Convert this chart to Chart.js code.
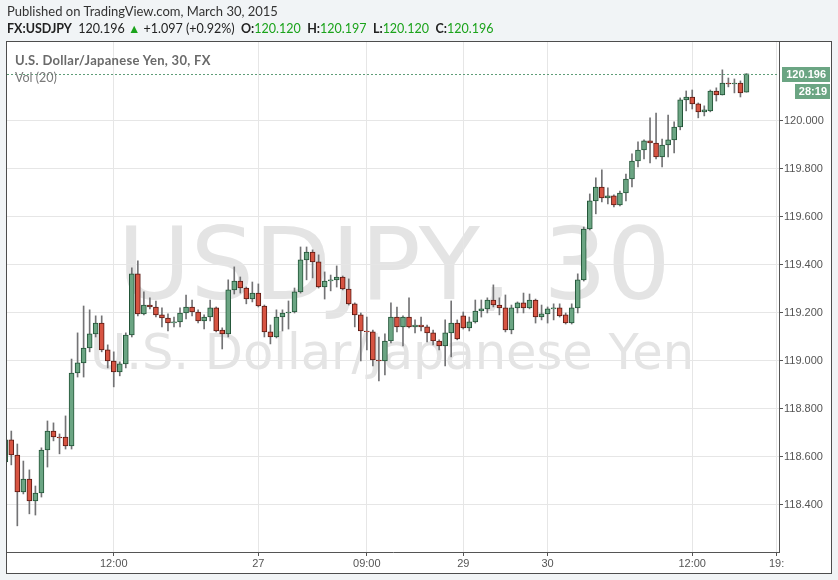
<!DOCTYPE html>
<html lang="en">
<head>
    <meta charset="UTF-8">
    <title>FX:USDJPY 30</title>
    <style>
        body { margin: 0; background: #f1f4f6; }
        #wrap { position: relative; width: 838px; height: 580px; overflow: hidden; font-family: Lato, "Open Sans", sans-serif; }
        #frame { position: absolute; left: 6px; top: 41px; width: 826px; height: 533px; box-sizing: border-box; border: 1px solid #4d4d4d; background: #fff; }
        .txt { position: absolute; white-space: nowrap; }
        #pub { left: 7px; top: 4px; font-size: 13px; line-height: 15px; color: #333; }
        #quote { left: 7px; top: 21px; font-size: 12.5px; line-height: 15px; color: #222; }
        #quote b { font-weight: bold; }
        #quote .g { color: #1ba31b; }
        #title { left: 15px; top: 53px; font-size: 13px; line-height: 15px; font-weight: bold; color: #6a6a6a; letter-spacing: 0.3px; }
        #vol { left: 15px; top: 70px; font-size: 12.5px; line-height: 15px; color: #7a7a7a; }
        .wm { position: absolute; width: 800px; text-align: center; color: #e4e4e4; white-space: nowrap; font-family: "DejaVu Sans", sans-serif; }
        #wm1 { left: -6px; top: 215px; font-size: 100px; line-height: 100px; }
        #wm2 { left: -8px; top: 328px; font-size: 49.5px; line-height: 49.5px; }
        canvas { position: absolute; left: 0; top: 0; }
    </style>
</head>
<body>
    <div id="wrap">
        <div id="frame"></div>
        <div class="wm" id="wm1">USDJPY, 30</div>
        <div class="wm" id="wm2">U.S. Dollar/Japanese Yen</div>
        <canvas id="candles" width="838" height="580"></canvas>
        <div class="txt" id="pub">Published on TradingView.com, March 30, 2015</div>
        <div class="txt" id="quote"><b>FX:USDJPY</b>&nbsp; 120.196 <span class="g">&#9650;</span> +1.097 (+0.92%)&nbsp; <b>O:</b><span class="g">120.120</span>&nbsp; <b>H:</b><span class="g">120.197</span>&nbsp; <b>L:</b><span class="g">120.120</span>&nbsp; <b>C:</b><span class="g">120.196</span></div>
        <div class="txt" id="title">U.S. Dollar/Japanese Yen, 30, FX</div>
        <div class="txt" id="vol">Vol (20)</div>
    </div>

    <script src="https://cdn.jsdelivr.net/npm/chart.js@4.4.1/dist/chart.umd.min.js"></script>
    <script>
        // 30 minute candles, first one (index -1) is cut by the left edge
        const opens = [
            118.579, 118.671, 118.608, 118.454, 118.508, 118.417, 118.450, 118.629, 118.708, 118.683,
            118.683, 118.646, 118.950, 118.992, 119.054, 119.113, 119.158, 119.046, 119.000, 118.954,
            118.988, 119.108, 119.363, 119.196, 119.233, 119.225, 119.192, 119.179, 119.158, 119.163,
            119.200, 119.225, 119.204, 119.167, 119.183, 119.221, 119.129, 119.113, 119.296, 119.333,
            119.304, 119.258, 119.283, 119.229, 119.121, 119.100, 119.183, 119.200, 119.204, 119.288,
            119.421, 119.454, 119.413, 119.308, 119.333, 119.338, 119.350, 119.300, 119.238, 119.192,
            119.125, 119.121, 119.004, 119.000, 119.083, 119.183, 119.142, 119.183, 119.142, 119.150,
            119.142, 119.117, 119.083, 119.063, 119.117, 119.158, 119.188, 119.138, 119.163, 119.208,
            119.217, 119.254, 119.233, 119.221, 119.129, 119.221, 119.242, 119.221, 119.254, 119.183,
            119.196, 119.217, 119.221, 119.192, 119.158, 119.221, 119.338, 119.550, 119.667, 119.725,
            119.679, 119.688, 119.650, 119.700, 119.758, 119.833, 119.879, 119.917, 119.908, 119.850,
            119.900, 119.921, 119.975, 120.088, 120.100, 120.071, 120.038, 120.042, 120.125, 120.108,
            120.158, 120.154, 120.158, 120.120
        ];
        const highs = [
            118.692, 118.708, 118.654, 118.583, 118.546, 118.479, 118.638, 118.750, 118.742, 118.696,
            118.771, 119.008, 119.117, 119.229, 119.213, 119.188, 119.188, 119.067, 119.038, 118.996,
            119.117, 119.388, 119.417, 119.288, 119.263, 119.250, 119.221, 119.196, 119.183, 119.221,
            119.275, 119.254, 119.213, 119.192, 119.254, 119.225, 119.138, 119.338, 119.392, 119.350,
            119.308, 119.329, 119.321, 119.233, 119.150, 119.213, 119.213, 119.250, 119.304, 119.475,
            119.475, 119.463, 119.442, 119.371, 119.358, 119.396, 119.354, 119.342, 119.242, 119.200,
            119.183, 119.129, 119.100, 119.113, 119.242, 119.225, 119.188, 119.263, 119.171, 119.183,
            119.150, 119.129, 119.088, 119.171, 119.250, 119.171, 119.204, 119.183, 119.254, 119.254,
            119.263, 119.317, 119.263, 119.275, 119.233, 119.246, 119.283, 119.279, 119.258, 119.233,
            119.225, 119.238, 119.238, 119.200, 119.238, 119.363, 119.558, 119.696, 119.763, 119.796,
            119.721, 119.692, 119.708, 119.779, 119.863, 119.913, 119.921, 120.013, 120.033, 119.925,
            120.025, 119.996, 120.096, 120.125, 120.129, 120.075, 120.063, 120.129, 120.138, 120.213,
            120.179, 120.175, 120.167, 120.197
        ];
        const lows = [
            118.567, 118.567, 118.313, 118.446, 118.363, 118.358, 118.433, 118.558, 118.667, 118.613,
            118.633, 118.633, 118.933, 118.933, 119.038, 119.100, 119.038, 118.971, 118.892, 118.938,
            118.971, 119.100, 119.188, 119.192, 119.217, 119.183, 119.142, 119.125, 119.142, 119.142,
            119.175, 119.188, 119.158, 119.133, 119.167, 119.121, 119.050, 119.100, 119.279, 119.283,
            119.238, 119.246, 119.225, 119.100, 119.071, 119.096, 119.125, 119.133, 119.200, 119.283,
            119.338, 119.346, 119.304, 119.258, 119.292, 119.308, 119.296, 119.233, 119.142, 119.000,
            119.046, 118.979, 118.917, 118.942, 119.075, 119.121, 119.063, 119.138, 119.117, 119.125,
            119.079, 119.067, 119.046, 118.979, 119.017, 119.088, 119.133, 119.125, 119.158, 119.183,
            119.200, 119.225, 119.192, 119.121, 119.113, 119.200, 119.200, 119.217, 119.158, 119.171,
            119.158, 119.171, 119.183, 119.154, 119.154, 119.200, 119.333, 119.546, 119.613, 119.663,
            119.654, 119.642, 119.646, 119.667, 119.725, 119.808, 119.842, 119.825, 119.842, 119.808,
            119.850, 119.867, 119.963, 120.042, 120.050, 120.013, 120.021, 120.038, 120.083, 120.108,
            120.142, 120.117, 120.100, 120.120
        ];
        const closes = [
            118.671, 118.608, 118.454, 118.508, 118.417, 118.450, 118.629, 118.708, 118.683, 118.679,
            118.646, 118.950, 118.992, 119.054, 119.113, 119.158, 119.046, 119.000, 118.954, 118.988,
            119.108, 119.363, 119.196, 119.233, 119.225, 119.192, 119.179, 119.158, 119.163, 119.200,
            119.225, 119.204, 119.167, 119.183, 119.221, 119.125, 119.113, 119.296, 119.333, 119.304,
            119.258, 119.283, 119.229, 119.121, 119.100, 119.183, 119.200, 119.204, 119.288, 119.421,
            119.454, 119.413, 119.308, 119.333, 119.338, 119.350, 119.300, 119.238, 119.192, 119.125,
            119.121, 119.004, 119.000, 119.083, 119.183, 119.142, 119.183, 119.142, 119.150, 119.142,
            119.117, 119.083, 119.063, 119.117, 119.158, 119.092, 119.138, 119.163, 119.208, 119.217,
            119.254, 119.233, 119.221, 119.129, 119.221, 119.242, 119.221, 119.254, 119.183, 119.196,
            119.217, 119.221, 119.188, 119.158, 119.221, 119.338, 119.550, 119.667, 119.725, 119.679,
            119.688, 119.650, 119.700, 119.758, 119.833, 119.879, 119.917, 119.908, 119.850, 119.900,
            119.921, 119.975, 120.088, 120.100, 120.071, 120.038, 120.046, 120.125, 120.108, 120.158,
            120.154, 120.158, 120.117, 120.196
        ];

        // x axis: candle index of each time label
        const xTickIndex = [17, 41, 59, 75, 89, 113, 127];
        const xTickLabels = ['12:00', '27', '09:00', '29', '30', '12:00', '19:'];
        const yTickValues = [118.4, 118.6, 118.8, 119.0, 119.2, 119.4, 119.6, 119.8, 120.0];
        const countdown = '28:19';

        const upFill = '#6ba583', upLine = '#225437';
        const downFill = '#d75442', downLine = '#5b1a13';

        const idx = opens.map((_, i) => i - 1);
        const bodies = idx.map((x, i) => ({ x: x, y: [opens[i], closes[i]] }));
        const wicks = idx.map((x, i) => ({ x: x, y: [lows[i], highs[i]] }));
        const isUp = opens.map((o, i) => closes[i] >= o);
        const lastClose = closes[closes.length - 1];

        // dotted last price line + price / countdown labels on the axis
        const lastPricePlugin = {
            id: 'lastPrice',
            afterDraw(chart) {
                const { ctx, chartArea } = chart;
                const py = Math.round(chart.scales.y.getPixelForValue(lastClose)) + 0.5;
                ctx.save();
                ctx.strokeStyle = '#5f9d78';
                ctx.lineWidth = 1;
                ctx.setLineDash([2, 2]);
                ctx.beginPath();
                ctx.moveTo(chartArea.left, py);
                ctx.lineTo(chartArea.right, py);
                ctx.stroke();
                ctx.setLineDash([]);

                const r = chartArea.right;
                ctx.fillStyle = upFill;
                ctx.fillRect(r + 3, py - 7.5, 48, 15);
                ctx.fillRect(r + 16, py + 9.5, 35, 15);
                ctx.fillStyle = '#fff';
                ctx.font = 'bold 11px "Liberation Sans", Arial, sans-serif';
                ctx.textBaseline = 'middle';
                ctx.textAlign = 'right';
                ctx.fillText(lastClose.toFixed(3), r + 47, py + 0.5);
                ctx.fillText(countdown, r + 48, py + 17.5);
                ctx.restore();
            }
        };

        Chart.defaults.font.family = '"Liberation Sans", Arial, sans-serif';
        Chart.defaults.font.size = 11;
        Chart.defaults.color = '#555';

        new Chart(document.getElementById('candles').getContext('2d'), {
            type: 'bar',
            data: {
                datasets: [
                    {
                        label: 'body',
                        data: bodies,
                        backgroundColor: isUp.map(u => u ? upFill : downFill),
                        borderColor: isUp.map(u => u ? upLine : downLine),
                        borderWidth: 1,
                        borderSkipped: false,
                        barThickness: 5,
                        grouped: false,
                        order: 1
                    },
                    {
                        label: 'wick',
                        data: wicks,
                        backgroundColor: '#737375',
                        borderWidth: 0,
                        barThickness: 1,
                        grouped: false,
                        order: 2
                    }
                ]
            },
            options: {
                responsive: false,
                animation: false,
                events: [],
                layout: { padding: { left: 7, top: 42, right: 7, bottom: 7 } },
                plugins: { legend: { display: false }, tooltip: { enabled: false } },
                scales: {
                    x: {
                        type: 'linear',
                        min: -0.714,
                        max: 127.4,
                        offset: false,
                        grid: { offset: false, color: '#e6e6e6', tickColor: '#555', tickLength: 4 },
                        border: { color: '#555' },
                        ticks: {
                            autoSkip: false,
                            maxRotation: 0,
                            padding: 1,
                            callback: v => xTickLabels[xTickIndex.indexOf(v)]
                        },
                        afterBuildTicks: s => { s.ticks = xTickIndex.map(v => ({ value: v })); },
                        afterFit: s => { s.height = 21; }
                    },
                    y: {
                        position: 'right',
                        min: 118.204,
                        max: 120.329,
                        grid: { color: '#e6e6e6', tickColor: '#555', tickLength: 4 },
                        border: { color: '#555' },
                        ticks: {
                            padding: 1,
                            callback: v => Number(v).toFixed(3)
                        },
                        afterBuildTicks: s => { s.ticks = yTickValues.map(v => ({ value: v })); },
                        afterFit: s => { s.width = 52; }
                    }
                }
            },
            plugins: [lastPricePlugin]
        });
    </script>
</body>
</html>
